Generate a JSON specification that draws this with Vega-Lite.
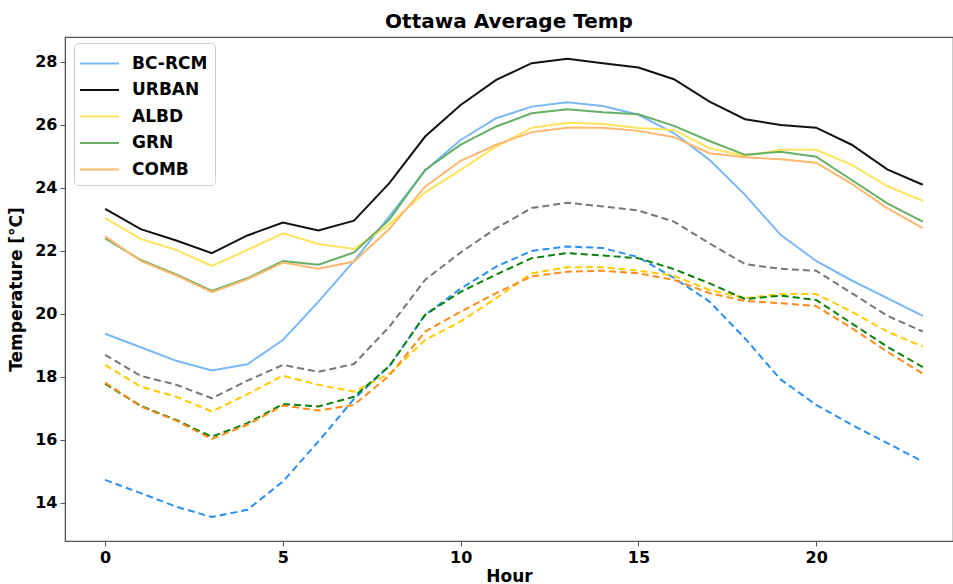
{
  "$schema": "https://vega.github.io/schema/vega-lite/v6.json",
  "autosize": {"type": "none"},
  "padding": {"left": 65, "top": 37, "right": 0, "bottom": 43},
  "width": 888,
  "height": 504,
  "title": {"text": "Ottawa Average Temp", "font": "DejaVu Sans", "fontSize": 20, "fontWeight": "bold", "color": "#000", "anchor": "middle", "offset": 5},
  "config": {
    "view": {"stroke": "#555", "strokeWidth": 1.2},
    "font": "DejaVu Sans",
    "axis": {"grid": false, "domainColor": "#555", "tickColor": "#555", "tickSize": 5, "labelFont": "DejaVu Sans", "labelFontWeight": "bold", "labelFontSize": 16, "labelColor": "#000", "titleFont": "DejaVu Sans", "titleFontWeight": "bold", "titleFontSize": 17, "titleColor": "#000"}
  },
  "datasets": {
    "temps": [
      {"scenario":"BC-RCM","kind":"solid","hour":0,"temp":19.37},{"scenario":"BC-RCM","kind":"solid","hour":1,"temp":18.94},{"scenario":"BC-RCM","kind":"solid","hour":2,"temp":18.51},{"scenario":"BC-RCM","kind":"solid","hour":3,"temp":18.2},{"scenario":"BC-RCM","kind":"solid","hour":4,"temp":18.4},{"scenario":"BC-RCM","kind":"solid","hour":5,"temp":19.17},{"scenario":"BC-RCM","kind":"solid","hour":6,"temp":20.39},{"scenario":"BC-RCM","kind":"solid","hour":7,"temp":21.68},{"scenario":"BC-RCM","kind":"solid","hour":8,"temp":23.1},{"scenario":"BC-RCM","kind":"solid","hour":9,"temp":24.55},{"scenario":"BC-RCM","kind":"solid","hour":10,"temp":25.52},{"scenario":"BC-RCM","kind":"solid","hour":11,"temp":26.21},{"scenario":"BC-RCM","kind":"solid","hour":12,"temp":26.58},{"scenario":"BC-RCM","kind":"solid","hour":13,"temp":26.72},{"scenario":"BC-RCM","kind":"solid","hour":14,"temp":26.6},{"scenario":"BC-RCM","kind":"solid","hour":15,"temp":26.32},{"scenario":"BC-RCM","kind":"solid","hour":16,"temp":25.74},{"scenario":"BC-RCM","kind":"solid","hour":17,"temp":24.89},{"scenario":"BC-RCM","kind":"solid","hour":18,"temp":23.78},{"scenario":"BC-RCM","kind":"solid","hour":19,"temp":22.51},{"scenario":"BC-RCM","kind":"solid","hour":20,"temp":21.68},{"scenario":"BC-RCM","kind":"solid","hour":21,"temp":21.06},{"scenario":"BC-RCM","kind":"solid","hour":22,"temp":20.5},{"scenario":"BC-RCM","kind":"solid","hour":23,"temp":19.94},
      {"scenario":"URBAN","kind":"solid","hour":0,"temp":23.33},{"scenario":"URBAN","kind":"solid","hour":1,"temp":22.69},{"scenario":"URBAN","kind":"solid","hour":2,"temp":22.33},{"scenario":"URBAN","kind":"solid","hour":3,"temp":21.93},{"scenario":"URBAN","kind":"solid","hour":4,"temp":22.49},{"scenario":"URBAN","kind":"solid","hour":5,"temp":22.9},{"scenario":"URBAN","kind":"solid","hour":6,"temp":22.65},{"scenario":"URBAN","kind":"solid","hour":7,"temp":22.96},{"scenario":"URBAN","kind":"solid","hour":8,"temp":24.16},{"scenario":"URBAN","kind":"solid","hour":9,"temp":25.63},{"scenario":"URBAN","kind":"solid","hour":10,"temp":26.63},{"scenario":"URBAN","kind":"solid","hour":11,"temp":27.43},{"scenario":"URBAN","kind":"solid","hour":12,"temp":27.96},{"scenario":"URBAN","kind":"solid","hour":13,"temp":28.1},{"scenario":"URBAN","kind":"solid","hour":14,"temp":27.96},{"scenario":"URBAN","kind":"solid","hour":15,"temp":27.82},{"scenario":"URBAN","kind":"solid","hour":16,"temp":27.45},{"scenario":"URBAN","kind":"solid","hour":17,"temp":26.74},{"scenario":"URBAN","kind":"solid","hour":18,"temp":26.18},{"scenario":"URBAN","kind":"solid","hour":19,"temp":26.0},{"scenario":"URBAN","kind":"solid","hour":20,"temp":25.91},{"scenario":"URBAN","kind":"solid","hour":21,"temp":25.37},{"scenario":"URBAN","kind":"solid","hour":22,"temp":24.59},{"scenario":"URBAN","kind":"solid","hour":23,"temp":24.1},
      {"scenario":"ALBD","kind":"solid","hour":0,"temp":23.04},{"scenario":"ALBD","kind":"solid","hour":1,"temp":22.38},{"scenario":"ALBD","kind":"solid","hour":2,"temp":22.03},{"scenario":"ALBD","kind":"solid","hour":3,"temp":21.52},{"scenario":"ALBD","kind":"solid","hour":4,"temp":22.03},{"scenario":"ALBD","kind":"solid","hour":5,"temp":22.56},{"scenario":"ALBD","kind":"solid","hour":6,"temp":22.22},{"scenario":"ALBD","kind":"solid","hour":7,"temp":22.06},{"scenario":"ALBD","kind":"solid","hour":8,"temp":22.85},{"scenario":"ALBD","kind":"solid","hour":9,"temp":23.86},{"scenario":"ALBD","kind":"solid","hour":10,"temp":24.57},{"scenario":"ALBD","kind":"solid","hour":11,"temp":25.31},{"scenario":"ALBD","kind":"solid","hour":12,"temp":25.91},{"scenario":"ALBD","kind":"solid","hour":13,"temp":26.07},{"scenario":"ALBD","kind":"solid","hour":14,"temp":26.03},{"scenario":"ALBD","kind":"solid","hour":15,"temp":25.9},{"scenario":"ALBD","kind":"solid","hour":16,"temp":25.84},{"scenario":"ALBD","kind":"solid","hour":17,"temp":25.26},{"scenario":"ALBD","kind":"solid","hour":18,"temp":25.02},{"scenario":"ALBD","kind":"solid","hour":19,"temp":25.21},{"scenario":"ALBD","kind":"solid","hour":20,"temp":25.21},{"scenario":"ALBD","kind":"solid","hour":21,"temp":24.73},{"scenario":"ALBD","kind":"solid","hour":22,"temp":24.06},{"scenario":"ALBD","kind":"solid","hour":23,"temp":23.59},
      {"scenario":"GRN","kind":"solid","hour":0,"temp":22.4},{"scenario":"GRN","kind":"solid","hour":1,"temp":21.71},{"scenario":"GRN","kind":"solid","hour":2,"temp":21.25},{"scenario":"GRN","kind":"solid","hour":3,"temp":20.73},{"scenario":"GRN","kind":"solid","hour":4,"temp":21.13},{"scenario":"GRN","kind":"solid","hour":5,"temp":21.68},{"scenario":"GRN","kind":"solid","hour":6,"temp":21.56},{"scenario":"GRN","kind":"solid","hour":7,"temp":21.95},{"scenario":"GRN","kind":"solid","hour":8,"temp":23.0},{"scenario":"GRN","kind":"solid","hour":9,"temp":24.57},{"scenario":"GRN","kind":"solid","hour":10,"temp":25.37},{"scenario":"GRN","kind":"solid","hour":11,"temp":25.95},{"scenario":"GRN","kind":"solid","hour":12,"temp":26.37},{"scenario":"GRN","kind":"solid","hour":13,"temp":26.5},{"scenario":"GRN","kind":"solid","hour":14,"temp":26.4},{"scenario":"GRN","kind":"solid","hour":15,"temp":26.34},{"scenario":"GRN","kind":"solid","hour":16,"temp":25.97},{"scenario":"GRN","kind":"solid","hour":17,"temp":25.49},{"scenario":"GRN","kind":"solid","hour":18,"temp":25.05},{"scenario":"GRN","kind":"solid","hour":19,"temp":25.15},{"scenario":"GRN","kind":"solid","hour":20,"temp":24.99},{"scenario":"GRN","kind":"solid","hour":21,"temp":24.25},{"scenario":"GRN","kind":"solid","hour":22,"temp":23.51},{"scenario":"GRN","kind":"solid","hour":23,"temp":22.93},
      {"scenario":"COMB","kind":"solid","hour":0,"temp":22.46},{"scenario":"COMB","kind":"solid","hour":1,"temp":21.68},{"scenario":"COMB","kind":"solid","hour":2,"temp":21.22},{"scenario":"COMB","kind":"solid","hour":3,"temp":20.69},{"scenario":"COMB","kind":"solid","hour":4,"temp":21.1},{"scenario":"COMB","kind":"solid","hour":5,"temp":21.63},{"scenario":"COMB","kind":"solid","hour":6,"temp":21.43},{"scenario":"COMB","kind":"solid","hour":7,"temp":21.66},{"scenario":"COMB","kind":"solid","hour":8,"temp":22.7},{"scenario":"COMB","kind":"solid","hour":9,"temp":24.04},{"scenario":"COMB","kind":"solid","hour":10,"temp":24.86},{"scenario":"COMB","kind":"solid","hour":11,"temp":25.37},{"scenario":"COMB","kind":"solid","hour":12,"temp":25.77},{"scenario":"COMB","kind":"solid","hour":13,"temp":25.91},{"scenario":"COMB","kind":"solid","hour":14,"temp":25.91},{"scenario":"COMB","kind":"solid","hour":15,"temp":25.81},{"scenario":"COMB","kind":"solid","hour":16,"temp":25.61},{"scenario":"COMB","kind":"solid","hour":17,"temp":25.1},{"scenario":"COMB","kind":"solid","hour":18,"temp":24.97},{"scenario":"COMB","kind":"solid","hour":19,"temp":24.91},{"scenario":"COMB","kind":"solid","hour":20,"temp":24.8},{"scenario":"COMB","kind":"solid","hour":21,"temp":24.13},{"scenario":"COMB","kind":"solid","hour":22,"temp":23.36},{"scenario":"COMB","kind":"solid","hour":23,"temp":22.72},
      {"scenario":"BC-RCM","kind":"dashed","hour":0,"temp":14.73},{"scenario":"BC-RCM","kind":"dashed","hour":1,"temp":14.31},{"scenario":"BC-RCM","kind":"dashed","hour":2,"temp":13.88},{"scenario":"BC-RCM","kind":"dashed","hour":3,"temp":13.55},{"scenario":"BC-RCM","kind":"dashed","hour":4,"temp":13.78},{"scenario":"BC-RCM","kind":"dashed","hour":5,"temp":14.68},{"scenario":"BC-RCM","kind":"dashed","hour":6,"temp":15.95},{"scenario":"BC-RCM","kind":"dashed","hour":7,"temp":17.3},{"scenario":"BC-RCM","kind":"dashed","hour":8,"temp":18.35},{"scenario":"BC-RCM","kind":"dashed","hour":9,"temp":19.97},{"scenario":"BC-RCM","kind":"dashed","hour":10,"temp":20.8},{"scenario":"BC-RCM","kind":"dashed","hour":11,"temp":21.5},{"scenario":"BC-RCM","kind":"dashed","hour":12,"temp":22.0},{"scenario":"BC-RCM","kind":"dashed","hour":13,"temp":22.14},{"scenario":"BC-RCM","kind":"dashed","hour":14,"temp":22.09},{"scenario":"BC-RCM","kind":"dashed","hour":15,"temp":21.8},{"scenario":"BC-RCM","kind":"dashed","hour":16,"temp":21.14},{"scenario":"BC-RCM","kind":"dashed","hour":17,"temp":20.39},{"scenario":"BC-RCM","kind":"dashed","hour":18,"temp":19.22},{"scenario":"BC-RCM","kind":"dashed","hour":19,"temp":17.92},{"scenario":"BC-RCM","kind":"dashed","hour":20,"temp":17.11},{"scenario":"BC-RCM","kind":"dashed","hour":21,"temp":16.48},{"scenario":"BC-RCM","kind":"dashed","hour":22,"temp":15.9},{"scenario":"BC-RCM","kind":"dashed","hour":23,"temp":15.31},
      {"scenario":"URBAN","kind":"dashed","hour":0,"temp":18.7},{"scenario":"URBAN","kind":"dashed","hour":1,"temp":18.03},{"scenario":"URBAN","kind":"dashed","hour":2,"temp":17.75},{"scenario":"URBAN","kind":"dashed","hour":3,"temp":17.32},{"scenario":"URBAN","kind":"dashed","hour":4,"temp":17.88},{"scenario":"URBAN","kind":"dashed","hour":5,"temp":18.38},{"scenario":"URBAN","kind":"dashed","hour":6,"temp":18.16},{"scenario":"URBAN","kind":"dashed","hour":7,"temp":18.41},{"scenario":"URBAN","kind":"dashed","hour":8,"temp":19.6},{"scenario":"URBAN","kind":"dashed","hour":9,"temp":21.08},{"scenario":"URBAN","kind":"dashed","hour":10,"temp":21.95},{"scenario":"URBAN","kind":"dashed","hour":11,"temp":22.72},{"scenario":"URBAN","kind":"dashed","hour":12,"temp":23.36},{"scenario":"URBAN","kind":"dashed","hour":13,"temp":23.53},{"scenario":"URBAN","kind":"dashed","hour":14,"temp":23.41},{"scenario":"URBAN","kind":"dashed","hour":15,"temp":23.28},{"scenario":"URBAN","kind":"dashed","hour":16,"temp":22.93},{"scenario":"URBAN","kind":"dashed","hour":17,"temp":22.24},{"scenario":"URBAN","kind":"dashed","hour":18,"temp":21.58},{"scenario":"URBAN","kind":"dashed","hour":19,"temp":21.43},{"scenario":"URBAN","kind":"dashed","hour":20,"temp":21.37},{"scenario":"URBAN","kind":"dashed","hour":21,"temp":20.66},{"scenario":"URBAN","kind":"dashed","hour":22,"temp":19.94},{"scenario":"URBAN","kind":"dashed","hour":23,"temp":19.44},
      {"scenario":"ALBD","kind":"dashed","hour":0,"temp":18.38},{"scenario":"ALBD","kind":"dashed","hour":1,"temp":17.69},{"scenario":"ALBD","kind":"dashed","hour":2,"temp":17.37},{"scenario":"ALBD","kind":"dashed","hour":3,"temp":16.9},{"scenario":"ALBD","kind":"dashed","hour":4,"temp":17.45},{"scenario":"ALBD","kind":"dashed","hour":5,"temp":18.04},{"scenario":"ALBD","kind":"dashed","hour":6,"temp":17.75},{"scenario":"ALBD","kind":"dashed","hour":7,"temp":17.53},{"scenario":"ALBD","kind":"dashed","hour":8,"temp":18.1},{"scenario":"ALBD","kind":"dashed","hour":9,"temp":19.17},{"scenario":"ALBD","kind":"dashed","hour":10,"temp":19.76},{"scenario":"ALBD","kind":"dashed","hour":11,"temp":20.5},{"scenario":"ALBD","kind":"dashed","hour":12,"temp":21.29},{"scenario":"ALBD","kind":"dashed","hour":13,"temp":21.48},{"scenario":"ALBD","kind":"dashed","hour":14,"temp":21.48},{"scenario":"ALBD","kind":"dashed","hour":15,"temp":21.37},{"scenario":"ALBD","kind":"dashed","hour":16,"temp":21.21},{"scenario":"ALBD","kind":"dashed","hour":17,"temp":20.76},{"scenario":"ALBD","kind":"dashed","hour":18,"temp":20.5},{"scenario":"ALBD","kind":"dashed","hour":19,"temp":20.63},{"scenario":"ALBD","kind":"dashed","hour":20,"temp":20.63},{"scenario":"ALBD","kind":"dashed","hour":21,"temp":20.07},{"scenario":"ALBD","kind":"dashed","hour":22,"temp":19.44},{"scenario":"ALBD","kind":"dashed","hour":23,"temp":18.96},
      {"scenario":"GRN","kind":"dashed","hour":0,"temp":17.78},{"scenario":"GRN","kind":"dashed","hour":1,"temp":17.08},{"scenario":"GRN","kind":"dashed","hour":2,"temp":16.63},{"scenario":"GRN","kind":"dashed","hour":3,"temp":16.1},{"scenario":"GRN","kind":"dashed","hour":4,"temp":16.53},{"scenario":"GRN","kind":"dashed","hour":5,"temp":17.14},{"scenario":"GRN","kind":"dashed","hour":6,"temp":17.06},{"scenario":"GRN","kind":"dashed","hour":7,"temp":17.37},{"scenario":"GRN","kind":"dashed","hour":8,"temp":18.35},{"scenario":"GRN","kind":"dashed","hour":9,"temp":19.97},{"scenario":"GRN","kind":"dashed","hour":10,"temp":20.7},{"scenario":"GRN","kind":"dashed","hour":11,"temp":21.25},{"scenario":"GRN","kind":"dashed","hour":12,"temp":21.77},{"scenario":"GRN","kind":"dashed","hour":13,"temp":21.93},{"scenario":"GRN","kind":"dashed","hour":14,"temp":21.85},{"scenario":"GRN","kind":"dashed","hour":15,"temp":21.77},{"scenario":"GRN","kind":"dashed","hour":16,"temp":21.42},{"scenario":"GRN","kind":"dashed","hour":17,"temp":20.97},{"scenario":"GRN","kind":"dashed","hour":18,"temp":20.47},{"scenario":"GRN","kind":"dashed","hour":19,"temp":20.58},{"scenario":"GRN","kind":"dashed","hour":20,"temp":20.44},{"scenario":"GRN","kind":"dashed","hour":21,"temp":19.7},{"scenario":"GRN","kind":"dashed","hour":22,"temp":18.96},{"scenario":"GRN","kind":"dashed","hour":23,"temp":18.31},
      {"scenario":"COMB","kind":"dashed","hour":0,"temp":17.82},{"scenario":"COMB","kind":"dashed","hour":1,"temp":17.06},{"scenario":"COMB","kind":"dashed","hour":2,"temp":16.61},{"scenario":"COMB","kind":"dashed","hour":3,"temp":16.03},{"scenario":"COMB","kind":"dashed","hour":4,"temp":16.48},{"scenario":"COMB","kind":"dashed","hour":5,"temp":17.09},{"scenario":"COMB","kind":"dashed","hour":6,"temp":16.93},{"scenario":"COMB","kind":"dashed","hour":7,"temp":17.11},{"scenario":"COMB","kind":"dashed","hour":8,"temp":18.05},{"scenario":"COMB","kind":"dashed","hour":9,"temp":19.44},{"scenario":"COMB","kind":"dashed","hour":10,"temp":20.07},{"scenario":"COMB","kind":"dashed","hour":11,"temp":20.66},{"scenario":"COMB","kind":"dashed","hour":12,"temp":21.19},{"scenario":"COMB","kind":"dashed","hour":13,"temp":21.34},{"scenario":"COMB","kind":"dashed","hour":14,"temp":21.37},{"scenario":"COMB","kind":"dashed","hour":15,"temp":21.29},{"scenario":"COMB","kind":"dashed","hour":16,"temp":21.08},{"scenario":"COMB","kind":"dashed","hour":17,"temp":20.66},{"scenario":"COMB","kind":"dashed","hour":18,"temp":20.41},{"scenario":"COMB","kind":"dashed","hour":19,"temp":20.34},{"scenario":"COMB","kind":"dashed","hour":20,"temp":20.25},{"scenario":"COMB","kind":"dashed","hour":21,"temp":19.55},{"scenario":"COMB","kind":"dashed","hour":22,"temp":18.8},{"scenario":"COMB","kind":"dashed","hour":23,"temp":18.1}
    ]
  },
  "data": {"name": "temps"},
  "encoding": {
    "x": {"field": "hour", "type": "quantitative", "scale": {"domain": [-1.13, 23.85], "nice": false, "zero": false}, "axis": {"title": "Hour", "values": [0, 5, 10, 15, 20], "labelPadding": 3, "titlePadding": 3}},
    "y": {"field": "temp", "type": "quantitative", "scale": {"domain": [12.79, 28.79], "nice": false, "zero": false}, "axis": {"title": "Temperature [°C]", "values": [14, 16, 18, 20, 22, 24, 26, 28], "labelPadding": 3, "titlePadding": 9}}
  },
  "layer": [
    {
      "transform": [{"filter": "datum.kind === 'dashed'"}],
      "mark": {"type": "line", "strokeWidth": 2, "strokeDash": [7, 4]},
      "encoding": {
        "detail": {"field": "scenario"},
        "color": {"field": "scenario", "type": "nominal", "scale": {"domain": ["BC-RCM", "URBAN", "ALBD", "GRN", "COMB"], "range": ["#2b8ff5", "#777777", "#ffcc00", "#0a820a", "#ff8c1a"]}, "legend": null}
      }
    },
    {
      "transform": [{"filter": "datum.kind === 'solid'"}],
      "mark": {"type": "line", "strokeWidth": 2},
      "encoding": {
        "color": {"field": "scenario", "type": "nominal", "scale": {"domain": ["BC-RCM", "URBAN", "ALBD", "GRN", "COMB"], "range": ["#7ab8f7", "#111111", "#ffe35c", "#66b066", "#ffb86e"]},
          "legend": {"title": null, "orient": "none", "legendX": 9, "legendY": 6, "symbolType": "M-1.16,0H1.96", "symbolSize": 625, "symbolStrokeWidth": 2, "labelFont": "DejaVu Sans", "labelFontWeight": "bold", "labelFontSize": 17, "labelColor": "#000", "labelOffset": 24, "rowPadding": 4.5, "padding": 7, "strokeColor": "#d0d0d0", "fillColor": "#ffffff", "cornerRadius": 4}}
      }
    }
  ],
  "resolve": {"scale": {"color": "independent"}, "legend": {"color": "independent"}}
}
